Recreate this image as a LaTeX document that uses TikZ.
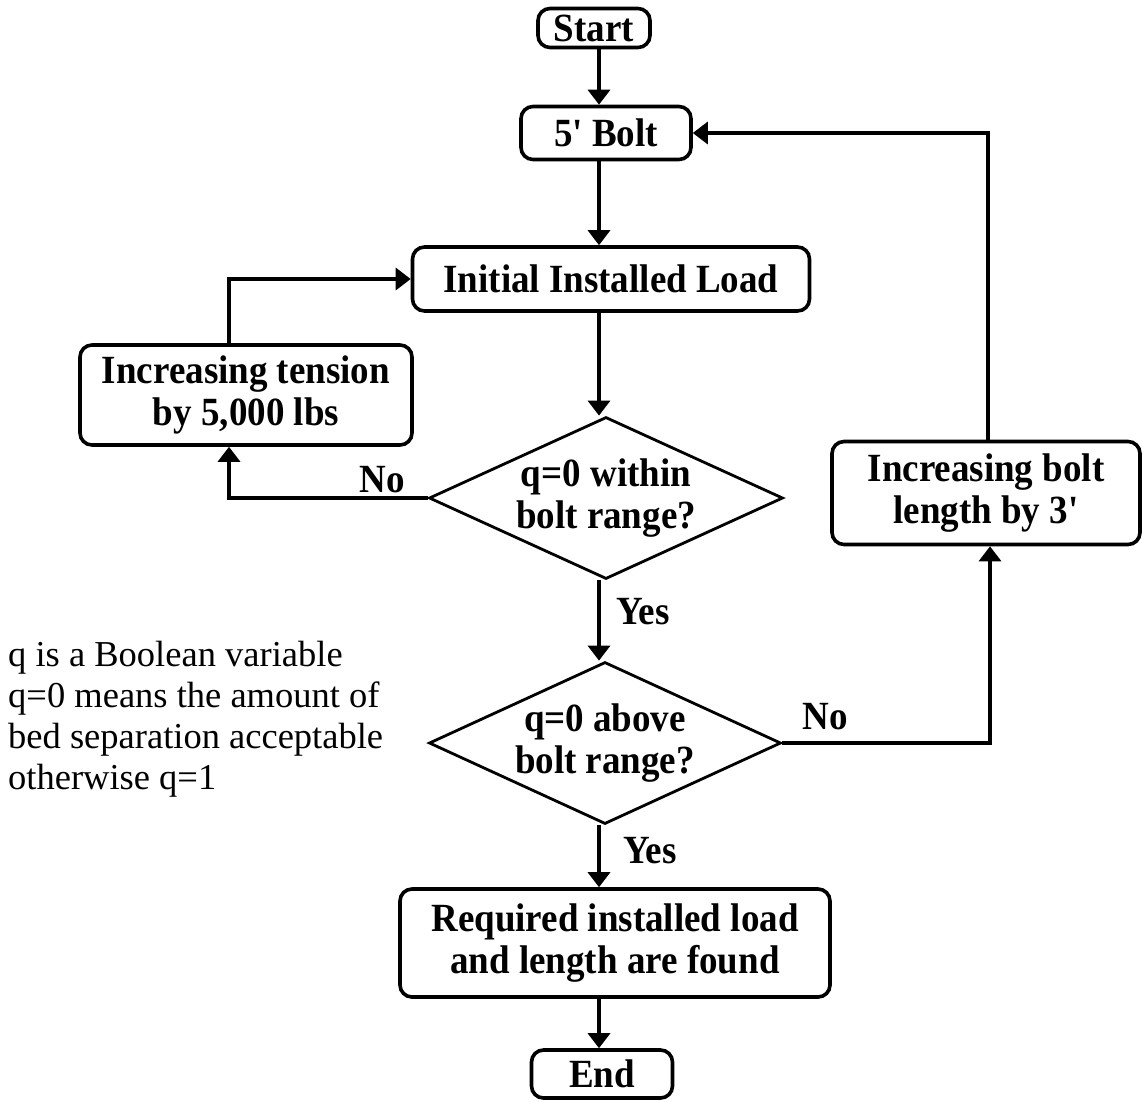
\documentclass[tikz,border=0pt]{standalone}
\usepackage{fontspec}
\setmainfont{Liberation Serif}
\newfontfamily\boxfont{Liberation Serif}[FakeStretch=0.925]
\usetikzlibrary{arrows.meta,shapes.geometric}
\newcommand\bxf{\boxfont\bfseries\fontsize{40}{42}\selectfont}
\newcommand\notef{\fontsize{36.5}{41}\selectfont}
\tikzset{
  box/.style={draw, line width=3.6pt, rounded corners=12pt, inner sep=0pt, align=center, font=\bxf},
  dia/.style={draw, diamond, aspect=2.18, line width=2.8pt, inner sep=0pt, align=center, font=\bxf},
  arr/.style={line width=3.4pt, -{Triangle[length=15pt,width=22pt]}},
  lab/.style={inner sep=0pt, font=\bxf}
}
\begin{document}
\begin{tikzpicture}[x=1pt,y=-1pt]
\useasboundingbox[fill=white] (0,0) rectangle (1142,1101);
\node[box, minimum width=112pt, minimum height=39pt] (start) at (594,28) {Start};
\node[box, minimum width=170pt, minimum height=53pt] (bolt) at (606,133) {5' Bolt};
\node[box, minimum width=397pt, minimum height=64pt] (init) at (611,279) {Initial Installed Load};
\node[box, minimum width=332pt, minimum height=100pt] (tension) at (246,395) {Increasing tension\\by 5,000 lbs};
\node[dia, minimum width=354pt, minimum height=162pt] (d1) at (606,498) {q=0 within\\bolt range?};
\node[dia, minimum width=352pt, minimum height=162pt] (d2) at (605,743) {q=0 above\\bolt range?};
\node[box, minimum width=308pt, minimum height=103pt] (len) at (986,493) {Increasing bolt\\length by 3'};
\node[box, minimum width=430pt, minimum height=108pt] (req) at (615,943) {Required installed load\\and length are found};
\node[box, minimum width=141pt, minimum height=48pt] (end) at (602,1074) {End};
\node[lab] (no1) at (382,480) {No};
\node[lab] (yes1) at (643,612) {Yes};
\node[lab] (no2) at (825,717) {No};
\node[lab] (yes2) at (650,851) {Yes};
\node[anchor=north west, inner sep=0pt, align=left, font=\notef] (note) at (8,641)
  {q is a Boolean variable\\q=0 means the amount of\\bed separation acceptable\\otherwise q=1};
\coordinate (c) at (599,0);
\draw[arr] (start.south -| c) -- (bolt.north -| c);
\draw[arr] (bolt.south -| c) -- (init.north -| c);
\draw[arr] (init.south -| c) -- (d1.north -| c);
\draw[arr] (d1.south -| c) -- (d2.north -| c);
\draw[arr] (d2.south -| c) -- (req.north -| c);
\draw[arr] (req.south -| c) -- (end.north -| c);
\draw[arr] (d1.west) -| ([xshift=-17pt]tension.south);
\draw[arr] ([xshift=-17pt]tension.north) |- (init.west);
\draw[arr] (d2.east) -| ([xshift=4pt]len.south);
\draw[arr] ([xshift=2pt]len.north) |- (bolt.east);
\end{tikzpicture}
\end{document}
